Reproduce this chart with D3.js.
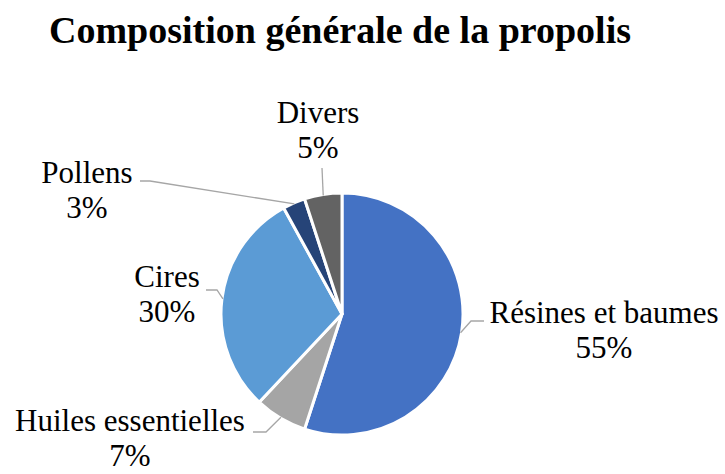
<!DOCTYPE html>
<html>
<head>
<meta charset="utf-8">
<script src="https://cdn.jsdelivr.net/npm/d3@7"></script>
<style>
  body { margin: 0; background: #fff; }
  svg text { font-family: "Liberation Serif", "Times New Roman", serif; fill: #000; }
</style>
</head>
<body>
<div id="chart"></div>
<script>
const categories = ["Résines et baumes", "Huiles essentielles", "Cires", "Pollens", "Divers"];
const values = [55, 7, 30, 3, 5];
const colors = ["#4472C4", "#A5A5A5", "#5B9BD5", "#264478", "#636363"];
const title = "Composition générale de la propolis";

// label layout: text center x, first baseline y, leader elbow and end
const labelLayout = [
  { x: 604, y: 323, elbow: [471, 321], end: [484, 321] },
  { x: 130, y: 431, elbow: [266, 432], end: [253, 432] },
  { x: 167, y: 287, elbow: [217, 290], end: [206, 290] },
  { x: 87,  y: 183, elbow: [150, 181], end: [140, 181] },
  { x: 318, y: 123, elbow: [322, 168], end: [322, 168] }
];

const width = 725, height = 474;
const cx = 342, cy = 314, radius = 121;

const svg = d3.select("#chart").append("svg")
    .attr("width", width)
    .attr("height", height);

svg.append("text")
    .attr("x", 340)
    .attr("y", 43)
    .attr("text-anchor", "middle")
    .style("font-size", "38px")
    .style("font-weight", "bold")
    .text(title);

const pie = d3.pie().sort(null).value(function(d) { return d; });
const arcs = pie(values);
const arc = d3.arc().innerRadius(0).outerRadius(radius);

const g = svg.append("g").attr("transform", `translate(${cx},${cy})`);

g.selectAll("path")
    .data(arcs).enter()
  .append("path")
    .attr("d", arc)
    .attr("fill", function(d, i) { return colors[i]; })
    .attr("stroke", "#fff")
    .attr("stroke-width", 3)
    .attr("stroke-linejoin", "round");

// leader lines from slice edge at mid-angle
svg.selectAll("polyline")
    .data(arcs).enter()
  .append("polyline")
    .attr("points", function(d, i) {
        const mid = (d.startAngle + d.endAngle) / 2;
        const px = cx + (radius - 1) * Math.sin(mid);
        const py = cy - (radius - 1) * Math.cos(mid);
        const l = labelLayout[i];
        return [[px, py], l.elbow, l.end].map(function(p) { return p.join(","); }).join(" ");
    })
    .attr("fill", "none")
    .attr("stroke", "#A6A6A6")
    .attr("stroke-width", 1.3);

const labels = svg.selectAll("text.lbl")
    .data(arcs).enter()
  .append("text")
    .attr("class", "lbl")
    .attr("text-anchor", "middle")
    .style("font-size", "31px");

labels.append("tspan")
    .attr("x", function(d, i) { return labelLayout[i].x; })
    .attr("y", function(d, i) { return labelLayout[i].y; })
    .text(function(d, i) { return categories[i]; });

labels.append("tspan")
    .attr("x", function(d, i) { return labelLayout[i].x; })
    .attr("y", function(d, i) { return labelLayout[i].y + 35; })
    .text(function(d) { return d.data + "%"; });
</script>
</body>
</html>
